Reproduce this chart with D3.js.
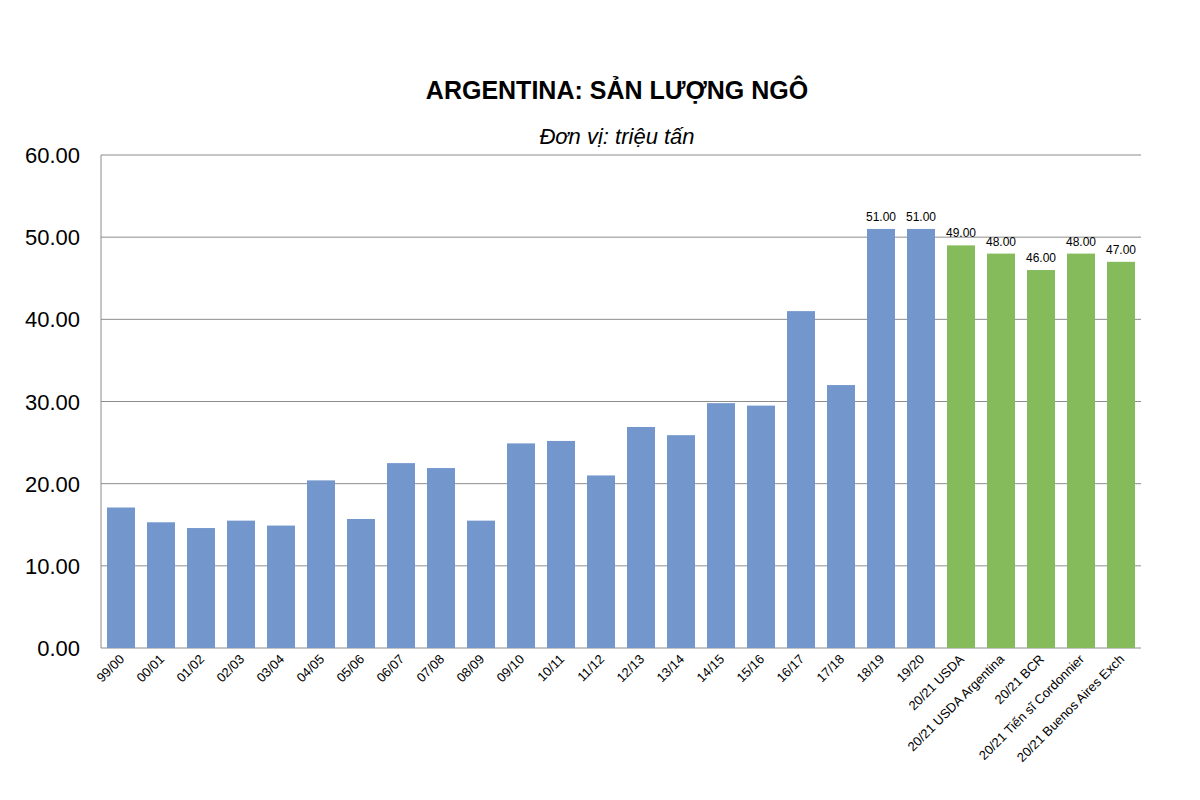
<!DOCTYPE html><html><head><meta charset="utf-8"><script src="https://cdn.jsdelivr.net/npm/d3@7"></script>
<style>body{margin:0;background:#fff}</style></head><body><svg id="c" width="1200" height="800"></svg>
<script>
const categories=["99/00","00/01","01/02","02/03","03/04","04/05","05/06","06/07","07/08","08/09","09/10","10/11","11/12","12/13","13/14","14/15","15/16","16/17","17/18","18/19","19/20","20/21 USDA","20/21 USDA Argentina","20/21 BCR","20/21 Tiến sĩ Cordonnier","20/21 Buenos Aires Exch"];
const values=[17.1,15.3,14.6,15.5,14.9,20.4,15.7,22.5,21.9,15.5,24.9,25.2,21.0,26.9,25.9,29.8,29.5,41.0,32.0,51.0,51.0,49.0,48.0,46.0,48.0,47.0];
const forecast=[0,0,0,0,0,0,0,0,0,0,0,0,0,0,0,0,0,0,0,1,1,2,2,2,2,2];
const yTicks=[0,10,20,30,40,50,60];
const svg=d3.select("#c"),F="Liberation Sans, Arial, sans-serif";
const x=d3.scaleBand().domain(categories).range([101,1141]).paddingInner(0.3).paddingOuter(0.15);
const y=d3.scaleLinear().domain([0,60]).range([648,155]);
svg.append("g").selectAll("line").data(yTicks).join("line").attr("x1",101).attr("x2",1141).attr("y1",d=>y(d)).attr("y2",d=>y(d)).attr("stroke","#8c8c8c");
svg.append("line").attr("x1",101).attr("x2",101).attr("y1",155).attr("y2",648).attr("stroke","#8c8c8c");
svg.append("g").selectAll("text").data(yTicks).join("text").attr("x",80).attr("y",d=>y(d)+8).attr("text-anchor","end").attr("font-family",F).attr("font-size",22).text(d=>d.toFixed(2));
svg.append("g").selectAll("rect").data(values).join("rect").attr("x",(d,i)=>x(categories[i])).attr("width",x.bandwidth()).attr("y",d=>y(d)).attr("height",d=>648-y(d)).attr("fill",(d,i)=>forecast[i]==2?"#86bb5c":"#7396cd");
svg.append("g").selectAll("text").data(values).join("text").filter((d,i)=>forecast[i]>0).attr("x",function(d){const i=values.indexOf(d);return 0}).remove();
values.forEach((d,i)=>{if(forecast[i]>0)svg.append("text").attr("x",x(categories[i])+x.bandwidth()/2).attr("y",y(d)-8).attr("text-anchor","middle").attr("font-family",F).attr("font-size",12).text(d.toFixed(2));});
svg.append("g").selectAll("text").data(categories).join("text").attr("transform",d=>`translate(${x(d)+x.bandwidth()/2+4},${660}) rotate(-45)`).attr("text-anchor","end").attr("font-family",F).attr("font-size",13).text(d=>d);
svg.append("text").attr("x",617).attr("y",99).attr("text-anchor","middle").attr("font-family",F).attr("font-weight","bold").attr("font-size",25).text("ARGENTINA: SẢN LƯỢNG NGÔ");
svg.append("text").attr("x",617).attr("y",144).attr("text-anchor","middle").attr("font-family",F).attr("font-style","italic").attr("font-size",22).text("Đơn vị: triệu tấn");
</script></body></html>
